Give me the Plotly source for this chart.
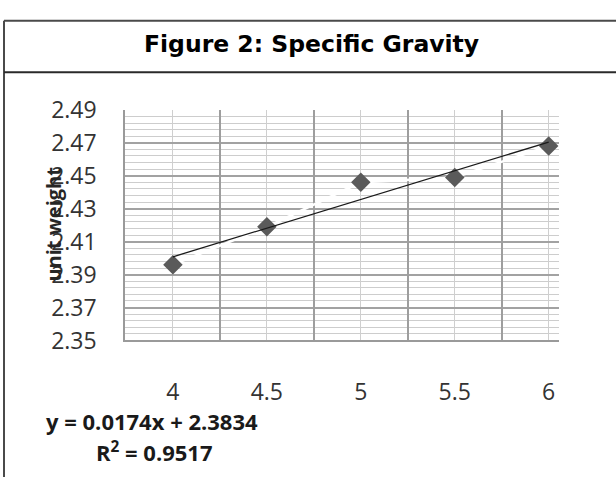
import plotly.graph_objects as go

# Specific gravity measurements per category
categories = [4, 4.5, 5, 5.5, 6]
unit_weight = [2.396, 2.419, 2.446, 2.449, 2.468]

# Linear trend (Excel style, fitted against point index 1..n)
slope = 0.0174
intercept = 2.3834
r_squared = 0.9517

y_ticks = [2.35, 2.37, 2.39, 2.41, 2.43, 2.45, 2.47, 2.49]
x_boundaries = [3.75, 4.25, 4.75, 5.25, 5.75]

W, H = 616, 492


def px(x):
    return x / W


def py(y):
    return 1 - y / H


index = list(range(1, len(categories) + 1))
trend_y = [slope * i + intercept for i in index]

fig = go.Figure()

# series line (white, as in the source workbook)
fig.add_trace(go.Scatter(
    x=categories, y=unit_weight, mode="lines",
    line=dict(color="white", width=2.5),
    hoverinfo="skip", showlegend=False,
))
# data markers
fig.add_trace(go.Scatter(
    x=categories, y=unit_weight, mode="markers",
    marker=dict(symbol="diamond", size=15, color="#5a5a5a", line=dict(width=0)),
    showlegend=False,
))
# linear trendline
fig.add_trace(go.Scatter(
    x=[categories[0], categories[-1]], y=[trend_y[0], trend_y[-1]], mode="lines",
    line=dict(color="#1a1a1a", width=1.3),
    showlegend=False,
))

tick_font = dict(family="Open Sans", size=23, color="#333333")

x_domain = [px(125), px(559)]
x_range = [3.745, 6.055]

fig.update_layout(
    width=W, height=H,
    margin=dict(l=0, r=0, t=0, b=0),
    paper_bgcolor="white", plot_bgcolor="white",
    xaxis=dict(
        domain=x_domain,
        range=x_range,
        tickmode="array", tickvals=categories,
        ticktext=[f"{c:g}" for c in categories],
        showgrid=True, gridcolor="#cfcfcf", gridwidth=1,
        showline=True, linecolor="#9a9a9a", linewidth=1.5,
        zeroline=False, ticks="", tickfont=tick_font,
        ticklabelstandoff=30,
    ),
    # overlay axis carrying the darker category-boundary gridlines
    xaxis2=dict(
        domain=x_domain, range=x_range, overlaying="x", anchor="y",
        tickmode="array", tickvals=x_boundaries, showticklabels=False,
        showgrid=True, gridcolor="#9e9e9e", gridwidth=1.5,
        zeroline=False, ticks="",
    ),
    yaxis=dict(
        domain=[py(346), py(99.3)],
        range=[2.35, 2.49],
        tickmode="array", tickvals=y_ticks,
        ticktext=[f"{t:.2f}" for t in y_ticks],
        showgrid=True, gridcolor="#a2a2a2", gridwidth=1.5,
        minor=dict(tick0=2.35, dtick=0.004, showgrid=True,
                   gridcolor="#cdcdcd", gridwidth=1),
        showline=True, linecolor="#9a9a9a", linewidth=1.5,
        zeroline=False, ticks="", tickfont=tick_font,
        ticklabelstandoff=22,
    ),
    shapes=[
        dict(type="line", xref="paper", yref="paper", x0=px(4), x1=1,
             y0=py(4), y1=py(4), line=dict(color="#4a4a4a", width=2)),
        dict(type="line", xref="paper", yref="paper", x0=px(4), x1=px(4),
             y0=py(4), y1=0, line=dict(color="#4a4a4a", width=2)),
        dict(type="line", xref="paper", yref="paper", x0=px(4), x1=1,
             y0=py(59), y1=py(59), line=dict(color="#2a2a2a", width=2)),
    ],
    annotations=[
        dict(text="<b>Figure 2: Specific Gravity</b>", xref="paper", yref="paper",
             x=px(312), y=py(29), xanchor="center", yanchor="middle",
             showarrow=False,
             font=dict(family="DejaVu Sans", size=23.5, color="black")),
        dict(text="<b>unit weight</b>", xref="paper", yref="paper",
             x=px(54), y=py(222), xanchor="center", yanchor="middle",
             textangle=-90, showarrow=False,
             font=dict(family="Open Sans", size=20, color="#262626")),
        dict(text=f"<b>y = {slope:.4f}x + {intercept:.4f}</b>", xref="paper", yref="paper",
             x=px(44), y=py(432), xanchor="left", yanchor="middle",
             showarrow=False,
             font=dict(family="Open Sans", size=22, color="#1a1a1a")),
        dict(text=f"<b>R<sup>2</sup> = {r_squared:.4f}</b>", xref="paper", yref="paper",
             x=px(94), y=py(465), xanchor="left", yanchor="middle",
             showarrow=False,
             font=dict(family="Open Sans", size=22, color="#1a1a1a")),
    ],
)

# invisible trace binding the overlay axis so its gridlines render
fig.add_trace(go.Scatter(x=[None], y=[None], xaxis="x2", yaxis="y",
                         showlegend=False, hoverinfo="skip"))

fig.write_html("out.html")
